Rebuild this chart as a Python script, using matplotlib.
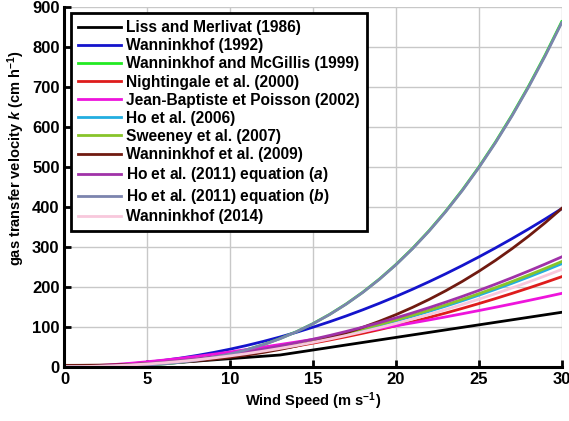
import numpy as np
import matplotlib.pyplot as plt

plt.rcParams['font.family'] = 'Liberation Sans'
plt.rcParams['font.weight'] = 'bold'
plt.rcParams['axes.labelweight'] = 'bold'
plt.rcParams['mathtext.fontset'] = 'custom'
plt.rcParams['mathtext.rm'] = 'Liberation Sans:bold'
plt.rcParams['mathtext.it'] = 'Liberation Sans:bold:italic'
plt.rcParams['mathtext.bf'] = 'Liberation Sans:bold'

# Velocita' del vento (m/s) a cui sono letti i valori
u = np.arange(0, 31)

# Liss and Merlivat: spezzata lineare
u_lm = [0, 3.6, 13, 30]
k_lm = [0, 0.65, 29.2, 136]

k_w92 = [0, 0.44, 1.76, 3.95, 7.02, 10.98, 15.80, 21.51, 28.10, 35.56, 43.90,
         53.12, 63.22, 74.19, 86.04, 98.78, 112.38, 126.87, 142.24, 158.48, 175.60,
         193.60, 212.48, 232.23, 252.86, 274.38, 296.76, 320.03, 344.18, 369.20, 395.10]
k_wm99 = [0, 0.03, 0.26, 0.86, 2.05, 3.99, 6.90, 10.95, 16.36, 23.29, 31.95,
          42.52, 55.21, 70.18, 87.66, 107.81, 130.85, 156.95, 186.31, 219.12, 255.56,
          295.84, 340.16, 388.68, 441.62, 499.15, 561.47, 628.78, 701.26, 779.11, 862.53]
k_n00 = [0, 0.60, 1.67, 3.21, 5.24, 7.74, 10.71, 14.17, 18.10, 22.50, 27.38,
         32.74, 38.57, 44.88, 51.67, 58.93, 66.67, 74.88, 83.57, 92.74, 102.38,
         112.50, 123.10, 134.17, 145.71, 157.74, 170.24, 183.21, 196.67, 210.59, 225.00]
k_jbp02 = [0, 0.9, 2.8, 5.4, 8.6, 12.4, 16.5, 21.0, 25.9, 31.2, 36.9,
           42.9, 49.1, 55.4, 61.8, 68.3, 74.9, 81.6, 88.4, 95.3, 102.3,
           109.5, 116.9, 124.5, 132.3, 140.3, 148.5, 156.9, 165.5, 174.3, 183.3]
k_ho06 = [0, 0.29, 1.14, 2.57, 4.58, 7.15, 10.30, 14.01, 18.30, 23.17, 28.60,
          34.61, 41.18, 48.33, 56.06, 64.35, 73.22, 82.65, 92.66, 103.25, 114.40,
          126.13, 138.42, 151.29, 164.74, 178.75, 193.34, 208.49, 224.22, 240.53, 257.40]
k_sw07 = [0, 0.29, 1.17, 2.63, 4.67, 7.30, 10.51, 14.31, 18.69, 23.65, 29.20,
          35.33, 42.05, 49.35, 57.23, 65.70, 74.75, 84.39, 94.61, 105.41, 116.80,
          128.77, 141.33, 154.47, 168.19, 182.50, 197.39, 212.87, 228.93, 245.57, 262.80]
k_w09 = [3.29, 3.48, 3.89, 4.58, 5.63, 7.10, 9.08, 11.64, 14.84, 18.76, 23.48,
         29.05, 35.57, 43.09, 51.70, 61.46, 72.45, 84.73, 98.39, 113.49, 130.10,
         148.31, 168.17, 189.78, 213.18, 238.49, 265.69, 294.95, 326.30, 359.82, 395.58]
k_ho11a = [0, 0.31, 1.22, 2.75, 4.88, 7.63, 10.98, 14.95, 19.52, 24.71, 30.50,
           36.91, 43.92, 51.55, 59.78, 68.63, 78.08, 88.15, 98.82, 110.11, 122.00,
           134.51, 147.62, 161.35, 175.68, 190.63, 206.18, 222.35, 239.12, 256.51, 274.50]
k_ho11b = [0, 0.03, 0.25, 0.86, 2.04, 3.98, 6.88, 10.92, 16.31, 23.22, 31.85,
           42.39, 55.04, 69.97, 87.40, 107.49, 130.46, 156.48, 185.75, 218.46, 254.80,
           294.96, 339.14, 387.52, 440.30, 497.66, 559.79, 626.89, 699.14, 776.78, 859.95]
k_w14 = [0, 0.27, 1.08, 2.43, 4.32, 6.75, 9.72, 13.23, 17.28, 21.87, 27.00,
         32.67, 38.88, 45.63, 52.92, 60.75, 69.12, 78.03, 87.48, 97.47, 108.00,
         119.07, 130.68, 142.83, 155.52, 168.75, 182.52, 196.83, 211.68, 227.07, 243.00]

fig = plt.figure(figsize=(5.69, 4.21), dpi=100)
ax = fig.add_axes([0.1133, 0.1290, 0.8739, 0.8551])

lw = 2.0
ax.plot(u_lm, k_lm, color='black', lw=lw, label='Liss and Merlivat (1986)')
ax.plot(u, k_w92, color='#1414cc', lw=lw, label='Wanninkhof (1992)')
ax.plot(u, k_wm99, color='#22ea22', lw=lw, label='Wanninkhof and McGillis (1999)')
ax.plot(u, k_n00, color='#de1c1c', lw=lw, label='Nightingale et al. (2000)')
ax.plot(u, k_jbp02, color='#ee14dc', lw=lw, label='Jean-Baptiste et Poisson (2002)')
ax.plot(u, k_ho06, color='#22aee0', lw=lw, label='Ho et al. (2006)')
ax.plot(u, k_sw07, color='#88c42a', lw=lw, label='Sweeney et al. (2007)')
ax.plot(u, k_w09, color='#701a10', lw=lw, label='Wanninkhof et al. (2009)')
ax.plot(u, k_ho11a, color='#a032a8', lw=lw, label=r'Ho et al. (2011) equation ($a$)')
ax.plot(u, k_ho11b, color='#7c84ae', lw=lw, label=r'Ho et al. (2011) equation ($b$)')
ax.plot(u, k_w14, color='#f8c8dc', lw=lw, label='Wanninkhof (2014)')

ax.set_xlim(0, 30)
ax.set_ylim(0, 900)
ax.set_xticks(np.arange(0, 31, 5))
ax.set_yticks(np.arange(0, 901, 100))
ax.grid(True, color='#c8c8c8', lw=1.0)
ax.set_axisbelow(True)
for s in ['top', 'right']:
    ax.spines[s].set_visible(False)
for s in ['left', 'bottom']:
    ax.spines[s].set_linewidth(2.2)
ax.tick_params(direction='in', length=5, width=2, labelsize=12)

ax.set_xlabel(r'Wind Speed (m s$^{-1}$)', fontsize=10.5, labelpad=3)
ax.set_ylabel(r'gas transfer velocity $k$ (cm h$^{-1}$)', fontsize=10.5)
ax.yaxis.set_label_coords(-0.076, 0.58)

leg = ax.legend(loc='upper left', fontsize=11.2, frameon=True, fancybox=False,
                edgecolor='black', framealpha=1, labelspacing=0.2,
                handlelength=2.75, handletextpad=0.35, borderpad=0.45,
                borderaxespad=0.42)
leg.get_frame().set_linewidth(2.0)

fig.savefig('out.png', dpi=100)
